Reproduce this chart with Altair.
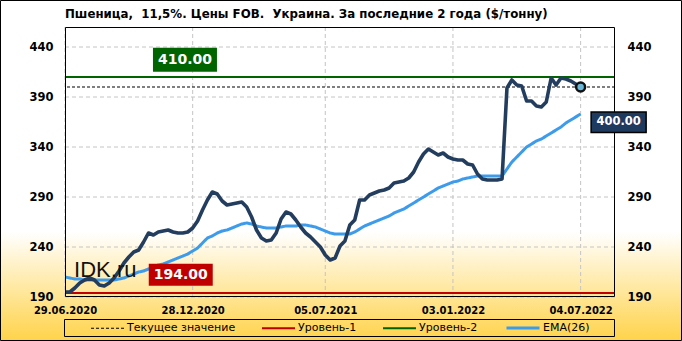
import altair as alt
import pandas as pd

# ---------------- data ----------------
dates = pd.date_range("2020-06-29", periods=106, freq="7D").strftime("%Y-%m-%d").tolist()

price = [195, 195, 199, 204, 207, 209, 207, 202, 201, 204,
         209, 216, 224, 230, 235, 237, 245, 254, 252, 255,
         256, 257, 255, 254, 254, 255, 259, 266, 277, 287,
         295, 293, 286, 282, 283, 284, 285, 280, 270, 257,
         249, 246, 247, 254, 268, 275, 273, 267, 260, 254,
         250, 245, 240, 232, 227, 229, 241, 246, 262, 267,
         287, 287, 292, 294, 296, 297, 299, 304, 305, 306,
         309, 315, 325, 333, 338, 335, 332, 334, 330, 328,
         327, 327, 323, 322, 313, 308, 307, 307, 307, 308,
         399, 407, 402, 401, 386, 386, 381, 380, 385, 409,
         402, 409, 408, 406, 403, 400]

ema = [210, 209, 208, 208, 207, 207, 207, 207, 207, 207,
       207, 208, 209, 211, 213, 215, 216, 218, 220, 222,
       223, 225, 227, 229, 231, 233, 236, 239, 244, 249,
       251, 254, 256, 257, 259, 261, 263, 264, 263, 261,
       260, 259, 259, 259, 260, 261, 261, 261, 262, 262,
       261, 260, 258, 256, 254, 253, 253, 253, 253, 255,
       258, 261, 263, 265, 267, 269, 271, 274, 276, 278,
       281, 284, 287, 290, 293, 296, 299, 301, 303, 305,
       306, 308, 309, 310, 311, 311, 311, 311, 311, 311,
       318, 325, 330, 335, 340, 343, 346, 348, 351, 354,
       357, 360, 364, 367, 370, 373]

series_names = ["Текущее значение", "Уровень-1", "Уровень-2", "EMA(26)"]
series_colors = ["#000000", "#C00000", "#006400", "#3D9BEB"]
series_dash = [[3, 2], [1, 0], [1, 0], [1, 0]]
series_widths = [1.2, 2, 2, 3]
level_names = series_names[:3]
level_values = [400, 194, 410]

x_tick_dates = ["2020-06-29", "2020-12-28", "2021-07-05", "2022-01-03", "2022-07-04"]
y_ticks = [190, 240, 290, 340, 390, 440]

title_text = "Пшеница,\u00a0 11,5%. Цены FOB.\u00a0 Украина. За последние 2 года ($/тонну)"

# ---------------- tables ----------------
df_price = pd.DataFrame({"date": dates, "price": price})
df_ema = pd.DataFrame({"date": dates, "v": ema, "series": "EMA(26)"})
df_levels = pd.DataFrame({"series": level_names, "v": level_values})
df_xgrid = pd.DataFrame({"date": x_tick_dates})
df_ygrid = pd.DataFrame({"v": y_ticks})
df_last = pd.DataFrame({"date": [dates[-1]], "price": [price[-1]],
                        "label": [f"{price[-1]:.2f}"],
                        "top": [375.0], "bottom": [354.6], "mid": [364.8]})
df_boxes = pd.DataFrame({
    "date": ["2020-12-17", "2020-12-11"],
    "top": [439.3, 223.3],
    "bottom": [415.3, 201.3],
    "mid": [427.3, 212.3],
    "label": [f"{level_values[2]:.2f}", f"{level_values[1]:.2f}"],
    "fill": ["#006400", "#C00000"],
})
df_wm = pd.DataFrame({"date": ["2020-07-12"], "v": [210.3], "t": ["IDK.ru"]})
one = pd.DataFrame({"a": [0]})
df_title = pd.DataFrame({"t": [title_text]})


def dt(s):
    y, m, d = map(int, s.split("-"))
    return alt.DateTime(year=y, month=m, date=d, utc=True)


x_scale = alt.Scale(type="utc", domain=[dt("2020-06-29"), dt("2022-08-22")])
y_scale = alt.Scale(domain=[190, 460], nice=False, zero=False)

FONT = "DejaVu Sans"

legend = alt.Legend(orient="none", legendX=25, legendY=283, direction="horizontal",
                    title=None, symbolType="stroke", symbolSize=1089,
                    labelFont=FONT, labelFontSize=11, labelColor="#000",
                    columnPadding=22, labelOffset=2, padding=0)
color_enc = alt.Color("series:N", scale=alt.Scale(domain=series_names, range=series_colors), legend=legend)
dash_enc = alt.StrokeDash("series:N", scale=alt.Scale(domain=series_names, range=series_dash), legend=legend)
width_enc = alt.StrokeWidth("series:N", scale=alt.Scale(type="ordinal", domain=series_names, range=series_widths), legend=legend)

# ---------------- layers ----------------
gradient = alt.LinearGradient(
    gradient="linear", x1=0, x2=0, y1=0, y2=1,
    stops=[alt.GradientStop(color="#FFFFFF", offset=0),
           alt.GradientStop(color="#FFFFFF", offset=0.68),
           alt.GradientStop(color="#FFD34A", offset=1)])

bg = alt.Chart(one).mark_rect(fill=gradient, stroke="#000", strokeWidth=1).encode(
    x=alt.value(-64.5), x2=alt.value(616.5), y=alt.value(-26.5), y2=alt.value(313.5))

xgrid = alt.Chart(df_xgrid).mark_rule(color="#C4C4C4", strokeWidth=1, strokeDash=[4, 3]).encode(
    x=alt.X("date:T", scale=x_scale, axis=None))

ygrid = alt.Chart(df_ygrid).mark_rule(color="#C4C4C4", strokeWidth=1, strokeDash=[4, 3]).encode(
    y=alt.Y("v:Q", scale=y_scale,
            axis=alt.Axis(orient="right", values=y_ticks, title=None, ticks=False, domain=False,
                          grid=False, labelFont=FONT, labelFontWeight="bold", labelFontSize=11.5,
                          labelColor="#000", labelPadding=12, labelAlign="left", zindex=1)))

levels = alt.Chart(df_levels).mark_rule().encode(
    y=alt.Y("v:Q", scale=y_scale, axis=None),
    color=color_enc, strokeDash=dash_enc, strokeWidth=width_enc)

ema_line = alt.Chart(df_ema).mark_line(strokeJoin="round").encode(
    x=alt.X("date:T", scale=x_scale, axis=None),
    y=alt.Y("v:Q", scale=y_scale, axis=None),
    color=color_enc, strokeDash=dash_enc, strokeWidth=width_enc)

price_line = alt.Chart(df_price).mark_line(color="#233D5E", strokeWidth=3.6, strokeJoin="round").encode(
    x=alt.X("date:T", scale=x_scale,
            axis=alt.Axis(values=[dt(d) for d in x_tick_dates], format="%d.%m.%Y", title=None,
                          labelFlush=False, labelOverlap=False, ticks=False, domain=False, grid=False,
                          labelPadding=8, labelFont=FONT, labelFontSize=10, labelFontWeight="bold",
                          labelColor="#000", zindex=1)),
    y=alt.Y("price:Q", scale=y_scale,
            axis=alt.Axis(orient="left", values=y_ticks, title=None, ticks=False, domain=False,
                          grid=False, labelFont=FONT, labelFontWeight="bold", labelFontSize=11.5,
                          labelColor="#000", labelPadding=12, zindex=1)))

last_pt = alt.Chart(df_last).mark_point(filled=True, fill="#6BB7D7", stroke="#111111",
                                         strokeWidth=2.5, size=80, opacity=1).encode(
    x=alt.X("date:T", scale=x_scale, axis=None),
    y=alt.Y("price:Q", scale=y_scale, axis=None))

last_box = alt.Chart(df_last).mark_rect(fill="#1F3A5F", stroke="#000", strokeWidth=1.5,
                                         xOffset=10.5, x2Offset=65.5).encode(
    x=alt.X("date:T", scale=x_scale, axis=None), x2="date:T",
    y=alt.Y("top:Q", scale=y_scale, axis=None), y2="bottom:Q")

last_txt = alt.Chart(df_last).mark_text(font=FONT, fontWeight="bold", fontSize=11.5, color="white",
                                         align="center", baseline="middle", dx=38).encode(
    x=alt.X("date:T", scale=x_scale, axis=None),
    y=alt.Y("mid:Q", scale=y_scale, axis=None), text="label:N")

boxes = alt.Chart(df_boxes).mark_rect(xOffset=-32, x2Offset=32).encode(
    x=alt.X("date:T", scale=x_scale, axis=None), x2="date:T",
    y=alt.Y("top:Q", scale=y_scale, axis=None), y2="bottom:Q",
    fill=alt.Fill("fill:N", scale=None, legend=None))

box_txt = alt.Chart(df_boxes).mark_text(font=FONT, fontWeight="bold", fontSize=14, color="white",
                                         align="center", baseline="middle").encode(
    x=alt.X("date:T", scale=x_scale, axis=None),
    y=alt.Y("mid:Q", scale=y_scale, axis=None), text="label:N")

wm = alt.Chart(df_wm).mark_text(font="Liberation Sans", fontSize=22, color="#111111",
                                align="left", baseline="alphabetic").encode(
    x=alt.X("date:T", scale=x_scale, axis=None),
    y=alt.Y("v:Q", scale=y_scale, axis=None), text="t:N")

title = alt.Chart(df_title).mark_text(font=FONT, fontSize=11.8, fontWeight="bold", color="#000",
                                      align="left", baseline="middle").encode(
    x=alt.value(0), y=alt.value(-13), text="t:N")

border = alt.Chart(one).mark_rect(fill="transparent", stroke="#000", strokeWidth=1).encode(
    x=alt.value(0.5), x2=alt.value(549.5), y=alt.value(0.5), y2=alt.value(269.5))

legend_box = alt.Chart(one).mark_rect(fill="transparent", stroke="#000", strokeWidth=1).encode(
    x=alt.value(-0.5), x2=alt.value(549.5), y=alt.value(292.5), y2=alt.value(309.5))

chart = alt.layer(
    bg, xgrid, ygrid, levels, ema_line, price_line, border, last_pt,
    last_box, last_txt, boxes, box_txt, wm, title, legend_box
).resolve_axis(x="independent", y="independent").properties(
    width=550, height=270,
    autosize=alt.AutoSizeParams(type="none"),
    padding={"left": 65, "top": 27, "right": 67, "bottom": 44},
    background="white",
).configure_view(stroke=None)

chart.save("out.html", embed_options={"renderer": "svg", "actions": False})
